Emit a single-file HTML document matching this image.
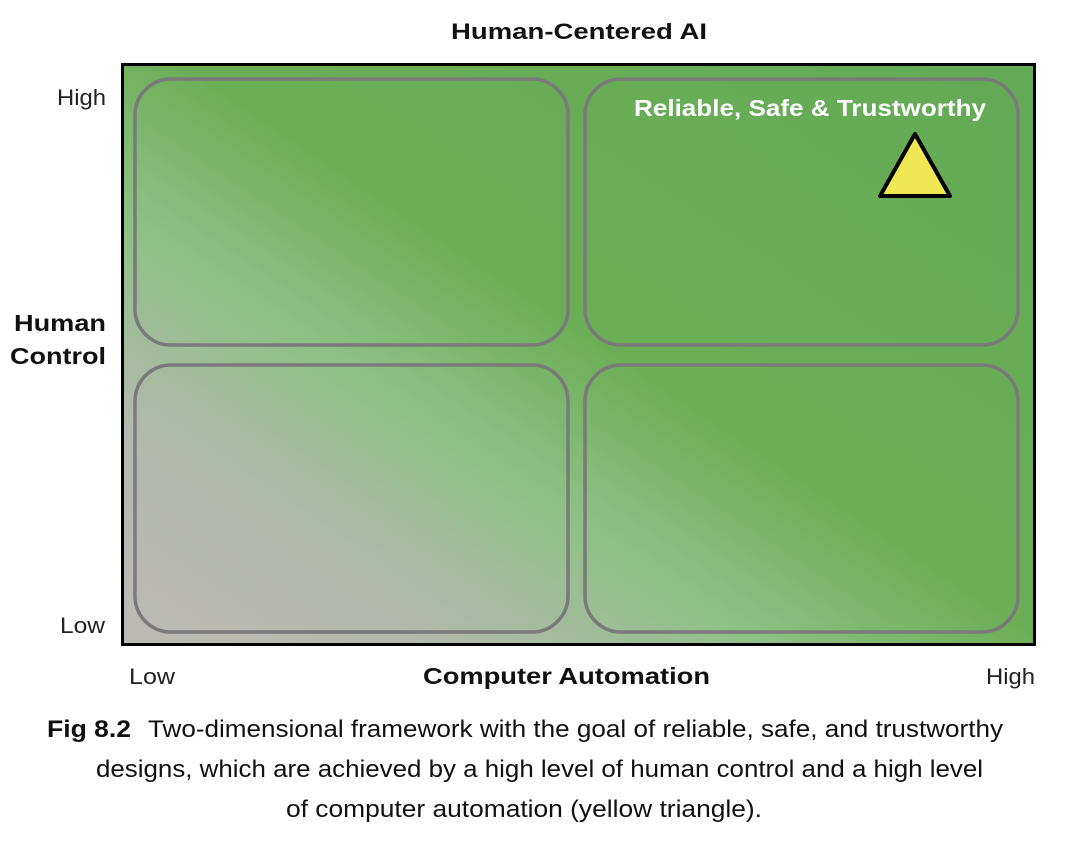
<!DOCTYPE html>
<html><head><style>html,body{margin:0;padding:0;background:#fff;}svg{display:block}</style></head>
<body>
<svg width="1082" height="856" viewBox="0 0 1082 856" xmlns="http://www.w3.org/2000/svg" font-family="Liberation Sans, sans-serif">
<defs>
<linearGradient id="g" gradientUnits="userSpaceOnUse" x1="121" y1="646" x2="675" y2="-181">
<stop offset="0" stop-color="#bdbab6"/>
<stop offset="0.18" stop-color="#b3b8ad"/>
<stop offset="0.36" stop-color="#8ec186"/>
<stop offset="0.52" stop-color="#6cae56"/>
<stop offset="1" stop-color="#63aa56"/>
</linearGradient>
</defs>
<text x="579" y="39" text-anchor="middle" font-weight="bold" font-size="22" fill="#111" textLength="256" lengthAdjust="spacingAndGlyphs">Human-Centered AI</text>
<rect x="122.5" y="64.5" width="912" height="580" fill="url(#g)" stroke="#000" stroke-width="3"/>
<g fill="none" stroke="#7a7a7a" stroke-width="3.5">
<rect x="135" y="79" width="433" height="266" rx="36"/>
<rect x="585" y="79" width="433" height="266" rx="36"/>
<rect x="135" y="365" width="433" height="267" rx="36"/>
<rect x="585" y="365" width="433" height="267" rx="36"/>
</g>
<text x="634" y="116" font-weight="bold" font-size="23" fill="#fff" textLength="352" lengthAdjust="spacingAndGlyphs">Reliable, Safe &amp; Trustworthy</text>
<polygon points="915,134 880,196 950,196" fill="#efe653" stroke="#000" stroke-width="4" stroke-linejoin="round"/>
<g font-size="22" fill="#222">
<text x="57" y="105" textLength="49" lengthAdjust="spacingAndGlyphs">High</text>
<text x="60" y="633" textLength="45" lengthAdjust="spacingAndGlyphs">Low</text>
<text x="129" y="684" textLength="46" lengthAdjust="spacingAndGlyphs">Low</text>
<text x="986" y="684" textLength="49" lengthAdjust="spacingAndGlyphs">High</text>
</g>
<g font-weight="bold" font-size="23" fill="#111">
<text x="14" y="331" textLength="92" lengthAdjust="spacingAndGlyphs">Human</text>
<text x="10" y="364" textLength="96" lengthAdjust="spacingAndGlyphs">Control</text>
<text x="423" y="684" textLength="287" lengthAdjust="spacingAndGlyphs">Computer Automation</text>
</g>
<g font-size="24" fill="#111">
<text x="47" y="737" font-weight="bold" textLength="84" lengthAdjust="spacingAndGlyphs">Fig 8.2</text>
<text x="148" y="737" textLength="855" lengthAdjust="spacingAndGlyphs">Two-dimensional framework with the goal of reliable, safe, and trustworthy</text>
<text x="96" y="777" textLength="887" lengthAdjust="spacingAndGlyphs">designs, which are achieved by a high level of human control and a high level</text>
<text x="286" y="817" textLength="476" lengthAdjust="spacingAndGlyphs">of computer automation (yellow triangle).</text>
</g>
</svg>
</body></html>
